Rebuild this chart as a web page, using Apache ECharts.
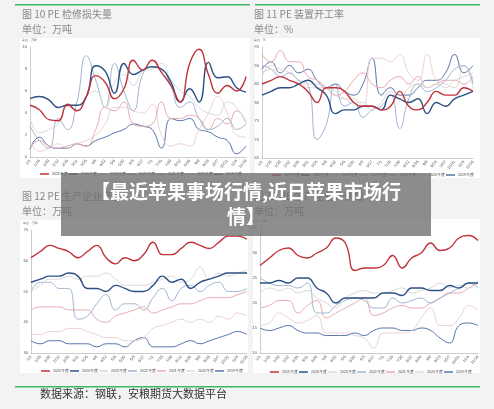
<!DOCTYPE html>
<html><head><meta charset="utf-8">
<script src="https://cdn.jsdelivr.net/npm/echarts@6/dist/echarts.min.js"></script>
<style>html,body{margin:0;padding:0;background:#f3f3f3}#c{width:494px;height:409px}</style>
</head><body><div id="c"></div>
<script>
const categories=['1/1','1/15','1/29','2/12','2/26','3/11','3/25','4/8','4/22','5/6','5/20','6/3','6/17','7/1','7/15','7/29','8/12','8/26','9/9','9/23','10/7','10/21','11/4','11/18'];
const yearNames=['2025年度','2024年度','2023年度','2022年度','2021年度','2020年度','2019年度'];
const colors=['#c0323a','#2b5083','#d9d9d9','#9fb5d2','#eaa9b2','#ead3d8','#5573a8'];
const maint2025=[4.7,4.3,3.4,3.3,4.8,4.2,5.5,7.4,6.8,5.3,6.2,8.8,7.9,8.8,7.7,6.5,5.0,8.5,9.8,7.5,5.8,6.5,6.0,7.3];
const maint2024=[5.3,5.5,5.2,4.5,4.7,4.7,5.5,8.3,7.8,5.8,8.5,7.5,7.9,8.2,8.0,6.8,5.0,6.2,5.0,8.6,7.2,7.3,6.3,5.9];
const maint2023=[3.5,2.2,2.5,3.0,4.6,4.2,5.5,6.0,4.5,6.8,7.5,6.5,7.8,8.0,8.5,7.0,6.0,5.5,4.5,4.0,3.8,5.0,4.5,3.0];
const maint2022=[2.8,1.5,0.8,3.5,2.5,5.0,9.2,7.0,4.5,8.5,6.0,4.2,7.5,8.2,8.0,6.5,4.5,5.0,3.5,2.5,2.8,3.5,2.5,3.0];
const maint2021=[0.8,1.5,1.0,0.8,1.0,1.2,1.0,2.5,4.5,4.2,5.0,3.0,2.8,3.0,5.0,3.5,3.5,3.8,3.5,2.5,3.5,3.0,4.2,3.2];
const maint2020=[1.5,0.5,0.8,1.2,0.8,1.2,1.5,2.0,3.0,4.5,4.5,4.2,4.0,4.8,2.0,1.0,1.2,1.0,2.5,4.0,5.5,4.0,2.0,1.8];
const maint2019=[0.7,1.8,1.0,0.8,0.8,1.2,1.0,1.5,1.8,2.2,2.5,3.0,2.8,2.5,0.8,3.5,3.3,3.5,2.5,2.3,1.8,1.5,0.3,1.0];
const rate2025=[85,86,87,86,85,83,80,84,84,83,80,79,79,78,79,83,79,78,80,83,82,82,84,83];
const rate2024=[82,83,84,84,85,86,84,82,77,78,78,79,79,78,82,81,80,81,77,80,79,81,82,83];
const rate2023=[88,89,87,86,85,85,85,84,83,81,80,80,78,80,83,81,84,85,84,85,84,86,87,88];
const rate2022=[90,89,87,88,86,85,70,74,85,79,80,76,78,79,82,73,81,85,83,84,86,89,90,85];
const rate2021=[93,91,94,91,91,87,86,84,82,83,86,88,85,84,86,87,85,87,84,85,86,86,85,87];
const rate2020=[87,90,89,88,86,84,84,84,82,81,81,79,92,92,91,93,88,86,93,86,85,84,90,84];
const rate2019=[89,91,88,90,88,89,86,84,85,83,82,85,92,82,84,82,82,84,86,86,88,93,88,90];
const prod2025=[61,63,65,64,63,61,63,65,61,59,61,60,62,66,62,62,64,66,65,64,66,68,68,67];
const prod2024=[53,54,55,55,56,55,51,51,50,52,51,50,50,52,55,53,54,51,53,54,55,56,56,56];
const prod2023=[50,52,54,54,55,54,55,55,56,54,52,52,52,53,54,55,53,54,58,54,56,55,56,57];
const prod2022=[50,53,53,51,51,41,42,46,49,44,46,46,44,48,51,47,51,52,50,52,53,50,50,51];
const prod2021=[44,45,45,45,44,44,44,41,40,42,43,44,45,43,44,45,46,46,47,48,48,48,49,50];
const prod2020=[36,36,37,37,38,38,37,36,35,35,34,34,35,38,39,40,41,40,41,40,42,41,43,42];
const prod2019=[34,33,34,34,33,33,33,32,33,33,32,34,35,32,32,32,33,34,33,34,35,36,37,36];
const out2025=[27.5,29,30.5,31,29.5,29,30,31,33,32,26.5,27,27,27.5,29.5,27,29,30,32,30.5,31,33,33.5,32.5];
const out2024=[24,24,24.5,24,25,25,23,22,20,21,21,21,21,22,22,21.5,23,23,22.5,22.5,23.5,23,24,24];
const out2023=[22,23,22.5,23,22,22.5,21,20,19,21,22,22.5,22,22,22.5,23,22,22.5,23,24,23,23.5,23,24.5];
const out2022=[25,24,23.5,23.5,23,24,18,18,19.5,20.5,21,20.5,19,19,21,20,20.5,21,20,21,22,23,24,23];
const out2021=[19,19.5,20.5,20.5,18,19.5,20.5,17,18,19,20,21,17.5,18,19,19.5,19,19,20,21,22,22,23,24];
const out2020=[15.5,16,18,17,16,16.5,17.5,14,14,14,13.5,13,11,14,14,14,14.5,17,19,15.5,15.5,17,19.5,18.5];
const out2019=[15,14.5,15,15.5,14.5,14,14,13.5,13.5,13.5,14,13.5,14.5,15,15,14.5,14.5,15,14.5,13,12,15.5,16,15.5];
const panels=[
 {data:[maint2025,maint2024,maint2023,maint2022,maint2021,maint2020,maint2019],unit:'单位：万吨',min:0,max:10,interval:2,grid:{left:30,top:47,width:216,height:110},box:[20,38,230,140],leg:172},
 {data:[rate2025,rate2024,rate2023,rate2022,rate2021,rate2020,rate2019],unit:'单位：%',min:65,max:95,interval:5,grid:{left:262,top:47,width:211,height:111},box:[255,38,225,140],leg:173},
 {data:[prod2025,prod2024,prod2023,prod2022,prod2021,prod2020,prod2019],unit:'单位：万吨',min:30,max:70,interval:10,grid:{left:31,top:230,width:216,height:123},box:[20,220,228,153],leg:369},
 {data:[out2025,out2024,out2023,out2022,out2021,out2020,out2019],unit:'单位：万吨',min:10,max:35,interval:5,grid:{left:260,top:228,width:218,height:125},box:[253,219,227,154],leg:370}
];
const grid=[],xAxis=[],yAxis=[],series=[],legend=[];
const graphic=[];
panels.forEach((p,i)=>{
  graphic.push({type:'rect',shape:{x:p.box[0],y:p.box[1],width:p.box[2],height:p.box[3]},style:{fill:'#fff'},z:-10});
  graphic.push({type:'text',left:p.grid.left-8,top:p.grid.top-8,style:{text:p.unit,fontSize:3,fill:'#666'},z:-5});
  grid.push(Object.assign({},p.grid));
  xAxis.push({type:'category',gridIndex:i,data:categories,boundaryGap:false,axisLine:{lineStyle:{color:'#999',width:0.5}},axisTick:{show:false},axisLabel:{fontSize:4,rotate:50,color:'#555',interval:0,margin:3}});
  yAxis.push({type:'value',gridIndex:i,min:p.min,max:p.max,interval:p.interval,axisLine:{show:true,lineStyle:{color:'#999',width:0.5}},splitLine:{show:false},axisLabel:{fontSize:4,color:'#555',margin:3}});
  p.data.forEach((d,k)=>{
    series.push({name:yearNames[k],type:'line',xAxisIndex:i,yAxisIndex:i,data:d,smooth:0.5,symbol:'none',z:10-k,lineStyle:{width:k<2?1.4:1,color:colors[k]},itemStyle:{color:colors[k]}});
    legend.push({left:p.grid.left+10+k*29,top:p.leg,padding:0,itemWidth:9,itemHeight:1.5,itemGap:2,icon:'rect',data:[yearNames[k]],textStyle:{fontSize:3.5,color:'#444',padding:[0,0,0,-2]}});
  });
});
graphic.push(
 {type:'rect',shape:{x:15,y:4,width:235,height:1.5},style:{fill:'#3cb864'}},
 {type:'rect',shape:{x:255,y:4,width:225,height:1.5},style:{fill:'#3cb864'}},
 {type:'rect',shape:{x:15,y:386,width:465,height:1.5},style:{fill:'#3cb864'}},
 {type:'text',left:22,top:9,style:{text:'图 10 PE 检修损失量',fontSize:10,fill:'#888',fontFamily:'Noto Sans CJK SC'}},
 {type:'text',left:22,top:24,style:{text:'单位：万吨',fontSize:10,fill:'#888',fontFamily:'Noto Sans CJK SC'}},
 {type:'text',left:254,top:9,style:{text:'图 11 PE 装置开工率',fontSize:10,fill:'#888',fontFamily:'Noto Sans CJK SC'}},
 {type:'text',left:254,top:24,style:{text:'单位：%',fontSize:10,fill:'#888',fontFamily:'Noto Sans CJK SC'}},
 {type:'text',left:22,top:191,style:{text:'图 12 PE 生产企业产量',fontSize:10,fill:'#888',fontFamily:'Noto Sans CJK SC'}},
 {type:'text',left:22,top:206,style:{text:'单位：万吨',fontSize:10,fill:'#888',fontFamily:'Noto Sans CJK SC'}},
 {type:'text',left:254,top:191,style:{text:'图 13 PE 生产企业外销量',fontSize:10,fill:'#888',fontFamily:'Noto Sans CJK SC'}},
 {type:'text',left:254,top:206,style:{text:'单位：万吨',fontSize:10,fill:'#888',fontFamily:'Noto Sans CJK SC'}},
 {type:'text',left:40,top:388,style:{text:'数据来源：钢联，安粮期货大数据平台',fontSize:11,fill:'#333',fontFamily:'Noto Sans CJK SC'}},
 {type:'rect',shape:{x:61,y:173,width:370,height:63},style:{fill:'rgba(110,110,110,0.78)'},z:100},
 {type:'text',x:246,y:192,style:{text:'【最近苹果事场行情,近日苹果市场行',fontSize:19,fontWeight:'bold',fill:'#fff',align:'center',verticalAlign:'middle',fontFamily:'Noto Sans CJK SC'},z:101},
 {type:'text',x:246,y:217,style:{text:'情】',fontSize:19,fontWeight:'bold',fill:'#fff',align:'center',verticalAlign:'middle',fontFamily:'Noto Sans CJK SC'},z:101}
);
const chart=echarts.init(document.getElementById('c'));
chart.setOption({animation:false,backgroundColor:'#f3f3f3',grid,xAxis,yAxis,series,legend,graphic});
</script></body></html>
